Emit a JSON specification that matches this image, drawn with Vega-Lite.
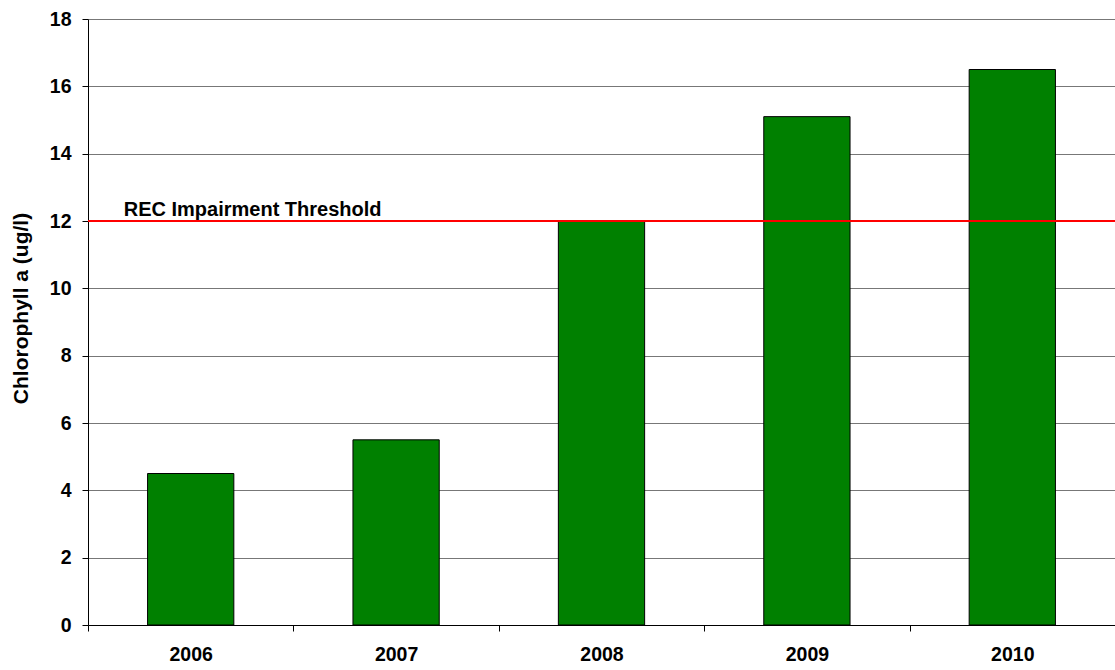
{
  "$schema": "https://vega.github.io/schema/vega-lite/v6.json",
  "autosize": "none",
  "width": 1027,
  "height": 606,
  "padding": {"left": 88, "top": 19, "right": 0, "bottom": 45},
  "background": "white",
  "config": {
    "font": "Liberation Sans",
    "view": {"stroke": null},
    "axis": {"labelFont": "Liberation Sans", "titleFont": "Liberation Sans", "labelFontWeight": "bold", "titleFontWeight": "bold", "labelColor": "black", "titleColor": "black", "domainColor": "black", "tickColor": "black"}
  },
  "datasets": {
    "bars": [
      {"year": "2006", "chl": 4.5},
      {"year": "2007", "chl": 5.5},
      {"year": "2008", "chl": 12.0},
      {"year": "2009", "chl": 15.1},
      {"year": "2010", "chl": 16.5}
    ],
    "threshold": [
      {"year": "2006", "value": 12, "label": "REC Impairment Threshold"}
    ]
  },
  "layer": [
    {
      "data": {"name": "bars"},
      "mark": {"type": "bar", "color": "#008000", "stroke": "black", "strokeWidth": 1, "width": {"band": 0.42}},
      "encoding": {
        "x": {
          "field": "year", "type": "ordinal", "sort": null,
          "scale": {"paddingInner": 0, "paddingOuter": 0},
          "axis": {"title": null, "labelAngle": 0, "labelFontSize": 19.5, "labelPadding": 14, "tickBand": "extent", "tickSize": 6, "domainWidth": 1, "grid": false}
        },
        "y": {
          "field": "chl", "type": "quantitative",
          "scale": {"domain": [0, 18], "nice": false},
          "axis": {"title": "Chlorophyll a (ug/l)", "titleFontSize": 21, "titleY": 289, "labelFontSize": 19.5, "values": [0, 2, 4, 6, 8, 10, 12, 14, 16, 18], "tickSize": 6, "labelPadding": 11, "titlePadding": 18, "grid": true, "gridColor": "#777777", "gridWidth": 1, "gridOpacity": 1}
        }
      }
    },
    {
      "data": {"name": "threshold"},
      "mark": {"type": "rule", "color": "#ff0000", "strokeWidth": 2},
      "encoding": {
        "y": {"field": "value", "type": "quantitative"}
      }
    },
    {
      "data": {"name": "threshold"},
      "mark": {"type": "text", "align": "left", "baseline": "bottom", "fontWeight": "bold", "fontSize": 20, "color": "black", "dx": -67, "dy": -1},
      "encoding": {
        "x": {"field": "year", "type": "ordinal", "sort": null},
        "y": {"field": "value", "type": "quantitative"},
        "text": {"field": "label"}
      }
    }
  ]
}
